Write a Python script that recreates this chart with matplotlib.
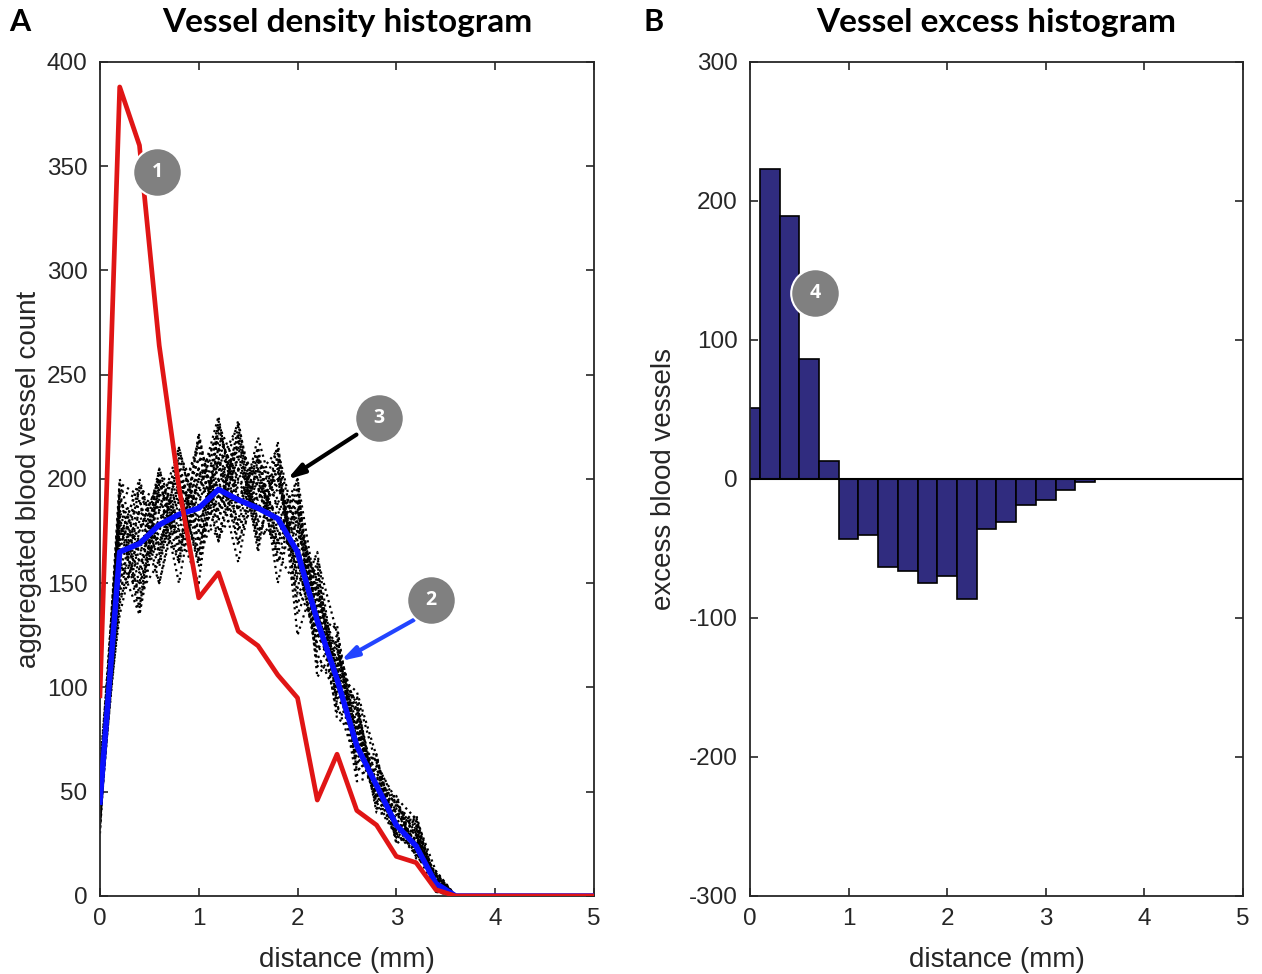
import numpy as np
import matplotlib.pyplot as plt

plt.rcParams['font.family'] = ['Liberation Sans', 'DejaVu Sans']
plt.rcParams['axes.unicode_minus'] = False

# distance bins (mm)
dist = [round(0.2 * i, 1) for i in range(26)]

# observed vessel counts (red)
observed = [96, 388, 360, 264, 196, 143, 155, 127, 120, 106, 95, 46, 68, 41, 34, 19, 16, 3,
            0, 0, 0, 0, 0, 0, 0, 0]
# mean of simulated counts (blue)
sim_mean = [45, 165, 169, 178, 183, 186, 195, 190, 186, 181, 165, 132, 104, 72, 53, 34, 24, 6,
            0, 0, 0, 0, 0, 0, 0, 0]

# individual simulated runs (black dotted), read approximately from the band
sim_runs = [
    [35, 150, 190, 160, 205, 170, 215, 175, 200, 160, 180, 120, 115, 75, 60, 30, 35, 5, 0],
    [50, 195, 140, 200, 165, 220, 180, 225, 170, 210, 150, 150, 95, 90, 45, 45, 20, 10, 0],
    [42, 140, 180, 150, 195, 160, 228, 185, 215, 150, 195, 130, 120, 70, 65, 35, 30, 4, 0],
    [55, 180, 135, 195, 150, 205, 170, 220, 165, 218, 135, 160, 90, 85, 50, 40, 25, 8, 0],
    [38, 170, 200, 165, 210, 185, 200, 160, 210, 175, 190, 110, 125, 65, 55, 28, 38, 3, 0],
    [48, 160, 150, 205, 175, 150, 225, 190, 185, 205, 140, 165, 100, 95, 42, 48, 18, 12, 0],
    [30, 185, 165, 175, 215, 180, 195, 228, 175, 190, 170, 125, 130, 60, 68, 25, 32, 6, 0],
    [60, 145, 185, 185, 160, 222, 175, 200, 205, 165, 185, 145, 85, 80, 48, 42, 22, 9, 0],
    [45, 200, 160, 170, 190, 165, 210, 170, 195, 200, 155, 135, 110, 55, 58, 32, 28, 2, 0],
    [40, 155, 195, 190, 170, 200, 185, 210, 180, 170, 200, 105, 120, 88, 40, 38, 36, 7, 0],
    [52, 175, 145, 160, 200, 175, 215, 195, 190, 215, 125, 155, 105, 70, 62, 30, 20, 10, 0],
    [34, 165, 175, 200, 180, 210, 190, 215, 200, 180, 175, 140, 95, 82, 52, 45, 30, 4, 0],
    [58, 190, 170, 180, 195, 190, 205, 180, 220, 185, 160, 120, 115, 78, 46, 35, 26, 11, 0],
    [44, 150, 185, 170, 185, 195, 220, 200, 185, 195, 180, 150, 102, 68, 57, 40, 33, 5, 0],
    [36, 178, 155, 195, 200, 180, 200, 205, 195, 175, 165, 130, 112, 92, 50, 28, 24, 8, 0],
    [50, 168, 190, 185, 175, 205, 195, 190, 210, 190, 190, 138, 98, 75, 64, 44, 29, 3, 0],
    [40, 185, 150, 175, 205, 165, 200, 215, 180, 200, 165, 145, 108, 72, 55, 36, 27, 6, 0],
    [55, 135, 175, 200, 160, 195, 230, 175, 205, 170, 185, 118, 122, 86, 47, 42, 34, 9, 0],
    [32, 195, 190, 150, 190, 215, 170, 205, 190, 208, 145, 158, 92, 64, 66, 31, 21, 3, 0],
    [47, 160, 135, 185, 215, 175, 210, 185, 215, 160, 190, 128, 118, 79, 53, 47, 37, 12, 0],
    [58, 172, 198, 168, 178, 205, 185, 222, 168, 212, 170, 112, 104, 93, 44, 29, 23, 7, 0],
    [37, 148, 162, 205, 168, 188, 218, 192, 198, 182, 158, 162, 126, 58, 61, 39, 31, 5, 0],
    [51, 188, 183, 158, 198, 158, 208, 168, 208, 196, 178, 136, 88, 84, 49, 34, 19, 10, 0],
    [43, 158, 147, 192, 188, 218, 180, 212, 176, 172, 196, 124, 114, 66, 59, 43, 35, 4, 0],
    [62, 176, 170, 178, 163, 200, 222, 198, 186, 204, 152, 148, 100, 90, 51, 37, 26, 8, 0],
    [33, 198, 192, 186, 208, 170, 192, 178, 212, 168, 186, 134, 128, 74, 45, 30, 39, 6, 0],
    [49, 142, 168, 172, 182, 210, 206, 226, 184, 188, 162, 116, 96, 96, 63, 46, 22, 11, 0],
    [41, 182, 138, 198, 172, 182, 172, 188, 202, 214, 174, 152, 110, 62, 54, 33, 30, 2, 0],
    [56, 166, 196, 164, 212, 192, 226, 204, 172, 178, 200, 142, 118, 82, 42, 41, 25, 9, 0],
    [39, 192, 156, 202, 194, 162, 188, 218, 196, 164, 148, 126, 106, 98, 67, 26, 33, 7, 0],
]

# excess = observed - simulated mean
excess = [51, 223, 189, 86, 13, -43, -40, -63, -66, -75, -70, -86, -36, -31, -19, -15, -8, -2,
          0, 0, 0, 0, 0, 0, 0, 0]

axis_col = '#262626'
fig = plt.figure(figsize=(12.62, 9.74), dpi=100)
ax1 = fig.add_axes([0.0792, 0.0801, 0.3914, 0.8563])
ax2 = fig.add_axes([0.5943, 0.0801, 0.3906, 0.8563])

# panel A
for run in sim_runs:
    ax1.plot(dist, run + [0] * (len(dist) - len(run)),
             ls=':', color='black', lw=1.6, zorder=2)
ax1.plot(dist, sim_mean, color='#0a10ff', lw=4.0, zorder=3)
ax1.plot(dist, observed, color='#e01515', lw=3.4, zorder=4)
ax1.set_xlim(0, 5)
ax1.set_ylim(0, 400)
ax1.set_yticks(range(0, 401, 50))
ax1.set_ylabel('aggregated blood vessel count', fontsize=20, color=axis_col)
ax1.yaxis.set_label_coords(-0.117, 0.5)

# panel B
ax2.bar(dist, excess, width=0.2, color='#302c7f', edgecolor='black', lw=1.2, zorder=2)
ax2.axhline(0, color='black', lw=1.5, zorder=3)
ax2.set_xlim(0, 5)
ax2.set_ylim(-300, 300)
ax2.set_yticks(range(-300, 301, 100))
ax2.set_ylabel('excess blood vessels', fontsize=20, color=axis_col)
ax2.yaxis.set_label_coords(-0.148, 0.5)

for ax in (ax1, ax2):
    ax.set_xticks(range(0, 6))
    ax.set_xlabel('distance (mm)', fontsize=20, color=axis_col)
    ax.xaxis.set_label_coords(0.5, -0.061)
    ax.tick_params(direction='in', top=True, right=True, length=6, width=1.2,
                   labelsize=17.5, labelcolor=axis_col, color=axis_col, pad=9)
    for s in ax.spines.values():
        s.set_color(axis_col)
        s.set_linewidth(1.3)

# numbered markers
def badge(ax, x, y, label):
    ax.plot(x, y, 'o', ms=35, mfc='#808080', mec='white', mew=1.5, zorder=6, clip_on=False)
    ax.text(x, y, label, color='white', fontsize=14, fontweight='bold', ha='center',
            va='center', zorder=7, family=['Open Sans', 'DejaVu Sans'])

ax1.annotate('', xy=(1.87, 199), xytext=(2.62, 222),
             arrowprops=dict(arrowstyle='-|>,head_width=0.3,head_length=1.0', color='black', lw=3),
             zorder=5)
ax1.annotate('', xy=(2.41, 112), xytext=(3.2, 133),
             arrowprops=dict(arrowstyle='-|>,head_width=0.3,head_length=1.0', color='#2244ff', lw=3),
             zorder=5)
badge(ax1, 0.577, 347, '1')
badge(ax1, 3.35, 142, '2')
badge(ax1, 2.82, 229, '3')
badge(ax2, 0.66, 134, '4')

title_font = ['Lato', 'DejaVu Sans']
fig.text(0.2749, 0.977, 'Vessel density histogram', fontsize=24, fontweight='bold',
         ha='center', va='center', family=title_font)
fig.text(0.7896, 0.977, 'Vessel excess histogram', fontsize=24, fontweight='bold',
         ha='center', va='center', family=title_font)
fig.text(0.016, 0.977, 'A', fontsize=22, fontweight='bold', ha='center', va='center',
         family=title_font)
fig.text(0.518, 0.977, 'B', fontsize=22, fontweight='bold', ha='center', va='center',
         family=title_font)

fig.savefig('out.png', dpi=100)
